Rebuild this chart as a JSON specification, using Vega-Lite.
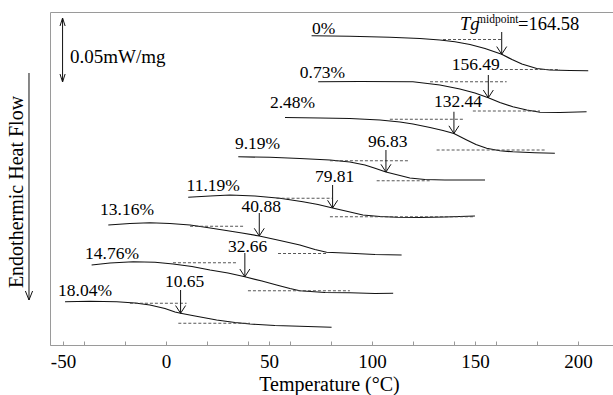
{
  "$schema": "https://vega.github.io/schema/vega-lite/v6.json",
  "width": 565,
  "height": 333,
  "autosize": {"type": "none"},
  "padding": {"left": 50, "top": 12, "right": 0, "bottom": 50},
  "background": "white",
  "config": {"view": {"stroke": "#9a9a9a", "strokeWidth": 1}, "font": "Liberation Serif"},
  "datasets": {
    "curves": [
      {"series": "0%", "T": 70.7, "hf": 247.4}, {"series": "0%", "T": 89.3, "hf": 247.0}, {"series": "0%", "T": 108.7, "hf": 246.2}, {"series": "0%", "T": 123.3, "hf": 245.2}, {"series": "0%", "T": 133.0, "hf": 244.0}, {"series": "0%", "T": 140.3, "hf": 242.6}, {"series": "0%", "T": 147.6, "hf": 240.4}, {"series": "0%", "T": 154.9, "hf": 237.2}, {"series": "0%", "T": 163.0, "hf": 232.6}, {"series": "0%", "T": 168.0, "hf": 228.4}, {"series": "0%", "T": 172.8, "hf": 224.8}, {"series": "0%", "T": 180.0, "hf": 221.2}, {"series": "0%", "T": 186.4, "hf": 220.0}, {"series": "0%", "T": 196.1, "hf": 219.6}, {"series": "0%", "T": 205.0, "hf": 219.4},
      {"series": "0.73%", "T": 73.9, "hf": 210.6}, {"series": "0.73%", "T": 94.2, "hf": 210.8}, {"series": "0.73%", "T": 119.9, "hf": 210.6}, {"series": "0.73%", "T": 133.0, "hf": 208.0}, {"series": "0.73%", "T": 142.7, "hf": 204.8}, {"series": "0.73%", "T": 150.0, "hf": 201.6}, {"series": "0.73%", "T": 156.5, "hf": 197.8}, {"series": "0.73%", "T": 162.1, "hf": 194.0}, {"series": "0.73%", "T": 168.4, "hf": 190.6}, {"series": "0.73%", "T": 175.2, "hf": 188.0}, {"series": "0.73%", "T": 181.6, "hf": 186.2}, {"series": "0.73%", "T": 191.3, "hf": 186.0}, {"series": "0.73%", "T": 204.2, "hf": 186.6},
      {"series": "2.48%", "T": 57.8, "hf": 182.0}, {"series": "2.48%", "T": 74.8, "hf": 181.6}, {"series": "2.48%", "T": 89.3, "hf": 181.2}, {"series": "2.48%", "T": 103.9, "hf": 180.0}, {"series": "2.48%", "T": 113.6, "hf": 178.4}, {"series": "2.48%", "T": 119.9, "hf": 176.8}, {"series": "2.48%", "T": 128.2, "hf": 174.0}, {"series": "2.48%", "T": 134.5, "hf": 171.6}, {"series": "2.48%", "T": 139.8, "hf": 169.2}, {"series": "2.48%", "T": 146.0, "hf": 164.0}, {"series": "2.48%", "T": 150.5, "hf": 160.4}, {"series": "2.48%", "T": 155.7, "hf": 157.4}, {"series": "2.48%", "T": 162.1, "hf": 155.4}, {"series": "2.48%", "T": 168.4, "hf": 154.6}, {"series": "2.48%", "T": 179.1, "hf": 153.8}, {"series": "2.48%", "T": 188.8, "hf": 153.4},
      {"series": "9.19%", "T": 35.1, "hf": 150.6}, {"series": "9.19%", "T": 50.5, "hf": 150.2}, {"series": "9.19%", "T": 65.0, "hf": 149.2}, {"series": "9.19%", "T": 79.6, "hf": 148.0}, {"series": "9.19%", "T": 89.3, "hf": 146.4}, {"series": "9.19%", "T": 96.6, "hf": 144.0}, {"series": "9.19%", "T": 101.5, "hf": 141.4}, {"series": "9.19%", "T": 106.8, "hf": 138.4}, {"series": "9.19%", "T": 113.6, "hf": 135.6}, {"series": "9.19%", "T": 118.4, "hf": 133.6}, {"series": "9.19%", "T": 125.7, "hf": 132.4}, {"series": "9.19%", "T": 135.4, "hf": 132.0}, {"series": "9.19%", "T": 145.1, "hf": 132.0}, {"series": "9.19%", "T": 154.9, "hf": 132.0},
      {"series": "11.19%", "T": 10.8, "hf": 118.2}, {"series": "11.19%", "T": 21.4, "hf": 119.2}, {"series": "11.19%", "T": 31.1, "hf": 120.0}, {"series": "11.19%", "T": 43.2, "hf": 119.2}, {"series": "11.19%", "T": 55.3, "hf": 117.4}, {"series": "11.19%", "T": 66.5, "hf": 114.6}, {"series": "11.19%", "T": 73.8, "hf": 112.4}, {"series": "11.19%", "T": 80.9, "hf": 109.6}, {"series": "11.19%", "T": 88.3, "hf": 106.8}, {"series": "11.19%", "T": 95.6, "hf": 104.0}, {"series": "11.19%", "T": 103.9, "hf": 102.8}, {"series": "11.19%", "T": 112.0, "hf": 102.2}, {"series": "11.19%", "T": 123.3, "hf": 102.0}, {"series": "11.19%", "T": 135.4, "hf": 102.4}, {"series": "11.19%", "T": 150.0, "hf": 103.2},
      {"series": "13.16%", "T": -28.0, "hf": 96.0}, {"series": "13.16%", "T": -17.5, "hf": 97.2}, {"series": "13.16%", "T": -7.8, "hf": 97.8}, {"series": "13.16%", "T": 1.9, "hf": 97.2}, {"series": "13.16%", "T": 11.7, "hf": 96.0}, {"series": "13.16%", "T": 19.9, "hf": 94.0}, {"series": "13.16%", "T": 27.7, "hf": 92.0}, {"series": "13.16%", "T": 36.9, "hf": 89.6}, {"series": "13.16%", "T": 45.3, "hf": 87.2}, {"series": "13.16%", "T": 55.3, "hf": 83.6}, {"series": "13.16%", "T": 65.0, "hf": 80.0}, {"series": "13.16%", "T": 72.3, "hf": 76.4}, {"series": "13.16%", "T": 78.0, "hf": 74.2}, {"series": "13.16%", "T": 89.3, "hf": 73.4}, {"series": "13.16%", "T": 101.5, "hf": 72.4}, {"series": "13.16%", "T": 114.4, "hf": 72.0},
      {"series": "14.76%", "T": -36.1, "hf": 64.0}, {"series": "14.76%", "T": -27.2, "hf": 65.6}, {"series": "14.76%", "T": -15.9, "hf": 66.6}, {"series": "14.76%", "T": -5.3, "hf": 66.2}, {"series": "14.76%", "T": 3.5, "hf": 64.8}, {"series": "14.76%", "T": 12.6, "hf": 62.8}, {"series": "14.76%", "T": 21.4, "hf": 60.0}, {"series": "14.76%", "T": 30.1, "hf": 57.6}, {"series": "14.76%", "T": 38.3, "hf": 54.6}, {"series": "14.76%", "T": 46.6, "hf": 51.2}, {"series": "14.76%", "T": 53.7, "hf": 48.0}, {"series": "14.76%", "T": 60.2, "hf": 45.2}, {"series": "14.76%", "T": 65.0, "hf": 43.4}, {"series": "14.76%", "T": 77.2, "hf": 42.0}, {"series": "14.76%", "T": 89.3, "hf": 41.8}, {"series": "14.76%", "T": 101.5, "hf": 41.2}, {"series": "14.76%", "T": 110.3, "hf": 41.4},
      {"series": "18.04%", "T": -49.0, "hf": 34.6}, {"series": "18.04%", "T": -36.9, "hf": 35.0}, {"series": "18.04%", "T": -23.9, "hf": 34.6}, {"series": "18.04%", "T": -15.0, "hf": 33.6}, {"series": "18.04%", "T": -7.8, "hf": 32.0}, {"series": "18.04%", "T": -0.5, "hf": 29.2}, {"series": "18.04%", "T": 4.4, "hf": 26.4}, {"series": "18.04%", "T": 7.1, "hf": 25.4}, {"series": "18.04%", "T": 14.1, "hf": 23.2}, {"series": "18.04%", "T": 24.6, "hf": 20.0}, {"series": "18.04%", "T": 33.5, "hf": 18.0}, {"series": "18.04%", "T": 40.8, "hf": 16.8}, {"series": "18.04%", "T": 52.9, "hf": 15.6}, {"series": "18.04%", "T": 65.0, "hf": 15.0}, {"series": "18.04%", "T": 80.4, "hf": 14.2}
    ],
    "tangents": [
      {"series": "0%", "part": "upper", "T": 134.5, "T2": 163.0, "hf": 244.4},
      {"series": "0%", "part": "lower", "T": 162.1, "T2": 191.3, "hf": 220.4},
      {"series": "0.73%", "part": "upper", "T": 128.2, "T2": 165.4, "hf": 210.6},
      {"series": "0.73%", "part": "lower", "T": 149.0, "T2": 181.6, "hf": 187.2},
      {"series": "2.48%", "part": "upper", "T": 108.7, "T2": 145.1, "hf": 180.6},
      {"series": "2.48%", "part": "lower", "T": 131.4, "T2": 184.8, "hf": 156.0},
      {"series": "9.19%", "part": "upper", "T": 79.6, "T2": 117.5, "hf": 147.4},
      {"series": "9.19%", "part": "lower", "T": 102.3, "T2": 128.2, "hf": 131.4},
      {"series": "11.19%", "part": "upper", "T": 53.7, "T2": 80.6, "hf": 117.4},
      {"series": "11.19%", "part": "lower", "T": 79.6, "T2": 150.0, "hf": 102.6},
      {"series": "13.16%", "part": "upper", "T": 11.7, "T2": 38.3, "hf": 95.0},
      {"series": "13.16%", "part": "lower", "T": 54.4, "T2": 78.2, "hf": 73.2},
      {"series": "14.76%", "part": "upper", "T": 3.4, "T2": 34.5, "hf": 65.8},
      {"series": "14.76%", "part": "lower", "T": 39.8, "T2": 89.3, "hf": 43.4},
      {"series": "18.04%", "part": "upper", "T": -17.5, "T2": 10.0, "hf": 33.4},
      {"series": "18.04%", "part": "lower", "T": 6.0, "T2": 40.8, "hf": 17.4}
    ],
    "arrows": [
      {"kind": "ann", "series": "0%", "T": 163.0, "hf": 232.6, "hf2": 250.4},
      {"kind": "ann", "series": "0.73%", "T": 156.5, "hf": 197.8, "hf2": 216.0},
      {"kind": "ann", "series": "2.48%", "T": 139.8, "hf": 169.2, "hf2": 186.6},
      {"kind": "ann", "series": "9.19%", "T": 106.8, "hf": 138.4, "hf2": 156.0},
      {"kind": "ann", "series": "11.19%", "T": 80.9, "hf": 109.6, "hf2": 128.0},
      {"kind": "ann", "series": "13.16%", "T": 45.3, "hf": 87.2, "hf2": 105.6},
      {"kind": "ann", "series": "14.76%", "T": 38.3, "hf": 54.6, "hf2": 73.6},
      {"kind": "ann", "series": "18.04%", "T": 7.1, "hf": 25.4, "hf2": 44.0},
      {"kind": "axis", "series": "", "T": -66.5, "hf": 36.0, "hf2": 217.6},
      {"kind": "bar", "series": "", "T": -50.2, "hf": 261.6, "hf2": 236.0},
      {"kind": "bar", "series": "", "T": -50.2, "hf": 210.4, "hf2": 236.0}
    ],
    "labels": [
      {"kind": "lbl", "text": "0%", "T": 70.9, "hf": 248.8},
      {"kind": "lbl", "text": "0.73%", "T": 65.0, "hf": 213.6},
      {"kind": "lbl", "text": "2.48%", "T": 50.5, "hf": 189.6},
      {"kind": "lbl", "text": "9.19%", "T": 33.5, "hf": 156.8},
      {"kind": "lbl", "text": "11.19%", "T": 10.0, "hf": 123.6},
      {"kind": "lbl", "text": "13.16%", "T": -32.0, "hf": 104.0},
      {"kind": "lbl", "text": "14.76%", "T": -39.3, "hf": 69.2},
      {"kind": "lbl", "text": "18.04%", "T": -52.4, "hf": 39.2},
      {"kind": "lbl", "text": "156.49", "T": 138.7, "hf": 220.0},
      {"kind": "lbl", "text": "132.44", "T": 130.1, "hf": 190.6},
      {"kind": "lbl", "text": "96.83", "T": 98.1, "hf": 158.4},
      {"kind": "lbl", "text": "79.81", "T": 72.3, "hf": 130.4},
      {"kind": "lbl", "text": "40.88", "T": 36.7, "hf": 106.8},
      {"kind": "lbl", "text": "32.66", "T": 30.1, "hf": 74.8},
      {"kind": "lbl", "text": "10.65", "T": -0.5, "hf": 46.4},
      {"kind": "tg", "text": "Tg", "T": 142.7, "hf": 252.0},
      {"kind": "sup", "text": "midpoint", "T": 151.0, "hf": 257.4},
      {"kind": "eq", "text": "=164.58", "T": 170.9, "hf": 252.0},
      {"kind": "scale", "text": "0.05mW/mg", "T": -46.6, "hf": 226.0}
    ]
  },
  "encoding": {
    "x": {
      "field": "T", "type": "quantitative",
      "scale": {"domain": [-56.3, 218], "nice": false, "zero": false},
      "axis": {
        "title": "Temperature (°C)",
        "values": [-50, -40, -20, 0, 20, 40, 50, 60, 80, 100, 120, 140, 150, 160, 180, 200],
        "labelExpr": "datum.value % 50 == 0 ? (datum.value < 0 ? '-' + abs(datum.value) : '' + datum.value) : ''",
        "grid": false, "domainColor": "#9a9a9a", "tickColor": "#9a9a9a", "tickSize": -4,
        "labelPadding": 11, "labelFont": "Liberation Serif", "labelFontSize": 19, "labelColor": "black",
        "labelFlush": false, "labelOverlap": false,
        "titleFont": "Liberation Serif", "titleFontSize": 20, "titleFontWeight": "normal", "titleColor": "black",
        "titleX": 279, "titleY": 45, "titleBaseline": "alphabetic", "titleAlign": "center"
      }
    },
    "y": {
      "field": "hf", "type": "quantitative",
      "scale": {"domain": [0, 266.4], "nice": false, "zero": false},
      "axis": {
        "title": "Endothermic Heat Flow", "labels": false, "ticks": false, "domain": false, "grid": false,
        "titleFont": "Liberation Serif", "titleFontSize": 20, "titleFontWeight": "normal", "titleColor": "black",
        "titleX": -33.5, "titleY": 179.5, "titleAngle": -90, "titleBaseline": "middle", "titleAlign": "center"
      }
    }
  },
  "layer": [
    {
      "data": {"name": "curves"},
      "mark": {"type": "line", "color": "#111111", "strokeWidth": 1.2},
      "encoding": {"detail": {"field": "series"}}
    },
    {
      "data": {"name": "tangents"},
      "mark": {"type": "rule", "color": "#444444", "strokeWidth": 0.9, "strokeDash": [3, 2]},
      "encoding": {"x2": {"field": "T2"}}
    },
    {
      "data": {"name": "arrows"},
      "mark": {"type": "rule", "color": "#111111", "strokeWidth": 1},
      "encoding": {"y2": {"field": "hf2"}}
    },
    {
      "data": {"name": "arrows"},
      "transform": [{"filter": "datum.kind == 'ann'"}],
      "mark": {"type": "point", "shape": "M-0.65,-1L0,0L0.65,-1", "size": 237, "filled": false, "stroke": "#111111", "strokeWidth": 1, "opacity": 1}
    },
    {
      "data": {"name": "arrows"},
      "transform": [{"filter": "datum.kind == 'axis'"}],
      "mark": {"type": "point", "shape": "M-0.4,-1L0,0L0.4,-1", "size": 324, "filled": false, "stroke": "#111111", "strokeWidth": 1, "opacity": 1}
    },
    {
      "data": {"name": "arrows"},
      "transform": [{"filter": "datum.kind == 'bar' && datum.hf > datum.hf2"}],
      "mark": {"type": "point", "shape": "M-0.32,1L0,0L0.32,1", "size": 256, "filled": false, "stroke": "#111111", "strokeWidth": 1, "opacity": 1}
    },
    {
      "data": {"name": "arrows"},
      "transform": [{"filter": "datum.kind == 'bar' && datum.hf < datum.hf2"}],
      "mark": {"type": "point", "shape": "M-0.32,-1L0,0L0.32,-1", "size": 256, "filled": false, "stroke": "#111111", "strokeWidth": 1, "opacity": 1}
    },
    {
      "data": {"name": "labels"},
      "transform": [{"filter": "datum.kind == 'lbl'"}],
      "mark": {"type": "text", "align": "left", "baseline": "alphabetic", "font": "Liberation Serif", "fontSize": 17.5, "color": "black"},
      "encoding": {"text": {"field": "text"}}
    },
    {
      "data": {"name": "labels"},
      "transform": [{"filter": "datum.kind == 'tg'"}],
      "mark": {"type": "text", "align": "left", "baseline": "alphabetic", "font": "Liberation Serif", "fontSize": 18.5, "fontStyle": "italic", "color": "black"},
      "encoding": {"text": {"field": "text"}}
    },
    {
      "data": {"name": "labels"},
      "transform": [{"filter": "datum.kind == 'sup'"}],
      "mark": {"type": "text", "align": "left", "baseline": "alphabetic", "font": "Liberation Serif", "fontSize": 11.5, "color": "black"},
      "encoding": {"text": {"field": "text"}}
    },
    {
      "data": {"name": "labels"},
      "transform": [{"filter": "datum.kind == 'eq'"}],
      "mark": {"type": "text", "align": "left", "baseline": "alphabetic", "font": "Liberation Serif", "fontSize": 18.5, "color": "black"},
      "encoding": {"text": {"field": "text"}}
    },
    {
      "data": {"name": "labels"},
      "transform": [{"filter": "datum.kind == 'scale'"}],
      "mark": {"type": "text", "align": "left", "baseline": "alphabetic", "font": "Liberation Serif", "fontSize": 19, "color": "black"},
      "encoding": {"text": {"field": "text"}}
    }
  ]
}
